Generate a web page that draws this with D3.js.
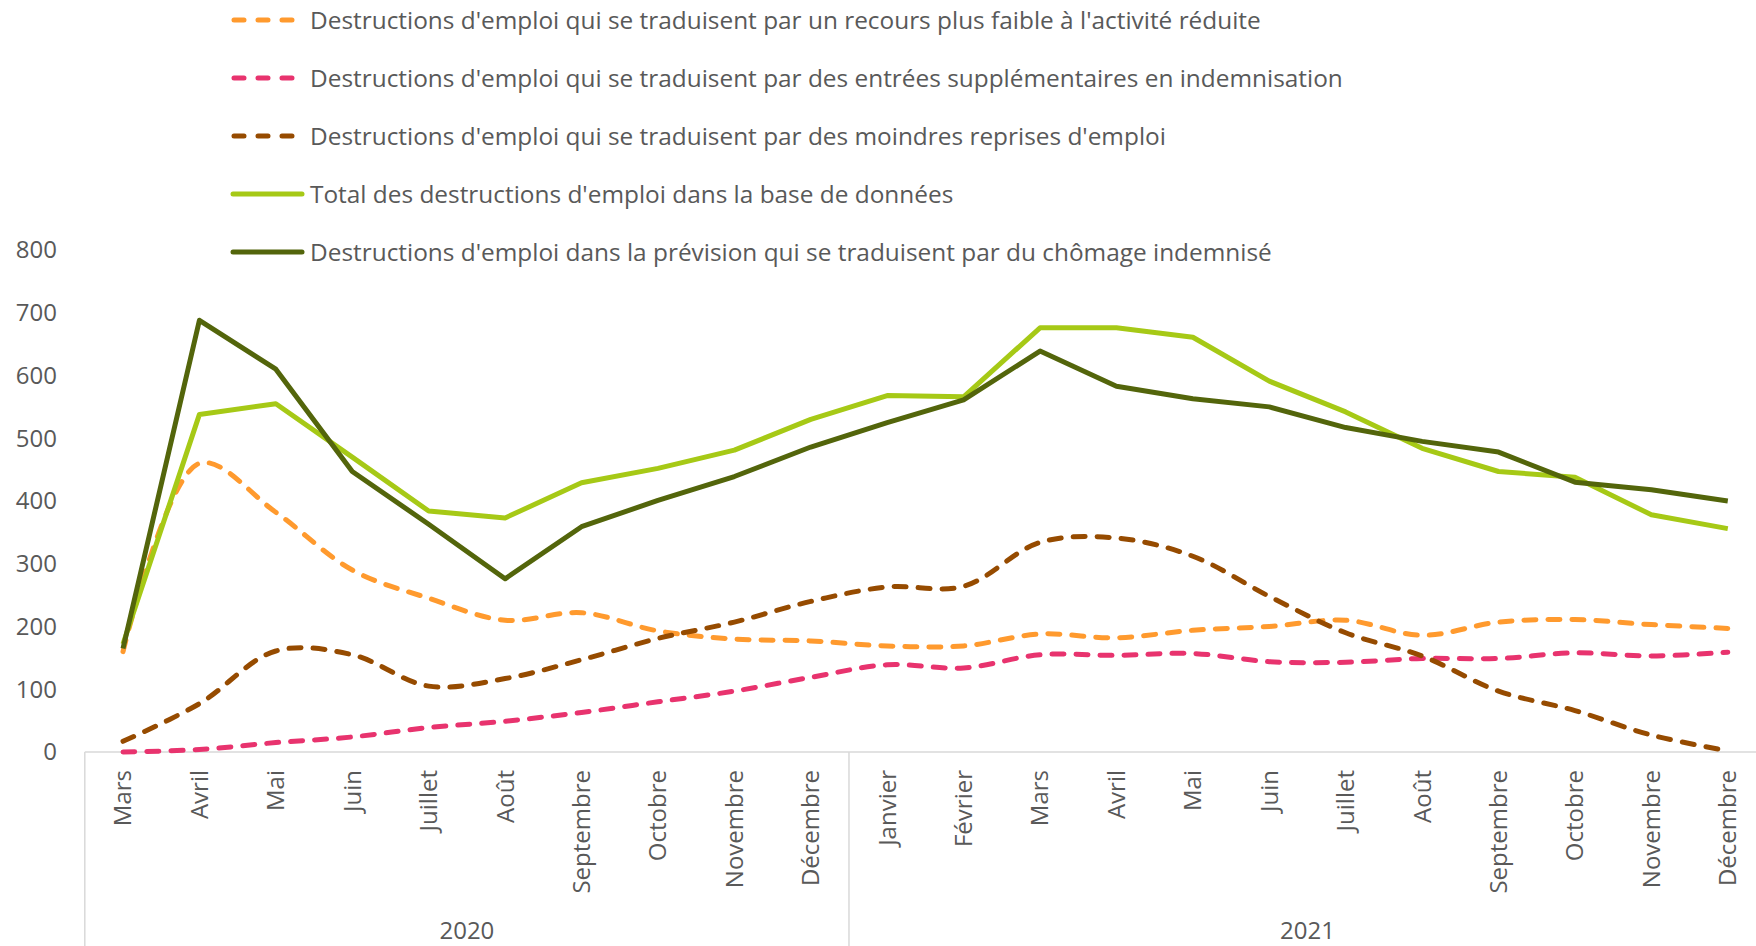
<!DOCTYPE html>
<html>
<head>
<meta charset="utf-8">
<script src="https://cdn.jsdelivr.net/npm/d3@7"></script>
<style>
  body { margin: 0; background: #fff; }
  text { font-family: "Open Sans", sans-serif; fill: #595959; }
</style>
</head>
<body>
<div id="chart"></div>
<script>
// Data
const months = ["Mars", "Avril", "Mai", "Juin", "Juillet", "Août", "Septembre", "Octobre", "Novembre", "Décembre",
  "Janvier", "Février", "Mars", "Avril", "Mai", "Juin", "Juillet", "Août", "Septembre", "Octobre", "Novembre", "Décembre"];
const years = ["2020", "2021"];
const yearStart = [0, 10];   // index of first month of each year
const yearEnd = [10, 22];

const activiteReduite = [160, 460, 382, 290, 245, 210, 222, 193, 180, 177, 169, 169, 188, 182, 194, 200, 210, 186, 207, 211, 203, 197];
const entreesIndemn = [0, 4, 15, 24, 39, 49, 63, 80, 97, 119, 139, 134, 155, 154, 157, 144, 143, 149, 149, 158, 153, 159];
const moindresReprises = [17, 77, 161, 155, 105, 117, 147, 181, 207, 240, 263, 264, 334, 341, 312, 248, 190, 153, 97, 66, 27, 2];
const totalBase = [172, 538, 555, 470, 384, 373, 429, 452, 481, 530, 568, 566, 676, 676, 661, 591, 542, 484, 447, 438, 378, 356];
const prevision = [165, 688, 610, 447, 363, 276, 359, 401, 439, 486, 525, 561, 639, 583, 563, 550, 517, 495, 478, 430, 418, 400];

const yTicks = [0, 100, 200, 300, 400, 500, 600, 700, 800];

const series = [
  { name: "Destructions d'emploi qui se traduisent par un recours plus faible à l'activité réduite", values: activiteReduite, color: "#FF9A2E", dashed: true },
  { name: "Destructions d'emploi qui se traduisent par des entrées supplémentaires en indemnisation", values: entreesIndemn, color: "#E8336E", dashed: true },
  { name: "Destructions d'emploi qui se traduisent par des moindres reprises d'emploi", values: moindresReprises, color: "#964B00", dashed: true },
  { name: "Total des destructions d'emploi dans la base de données", values: totalBase, color: "#A6C916", dashed: false },
  { name: "Destructions d'emploi dans la prévision qui se traduisent par du chômage indemnisé", values: prevision, color: "#53650B", dashed: false }
];

// Set up the SVG
const width = 1756;
const height = 946;
const plot = { left: 84.8, right: 1766, top: 250, bottom: 752 };

const svg = d3.select("#chart")
  .append("svg")
  .attr("width", width)
  .attr("height", height);

// Scales
const x = d3.scaleBand()
  .domain(d3.range(months.length))
  .range([plot.left, plot.right]);

const y = d3.scaleLinear()
  .domain([0, 800])
  .range([plot.bottom, plot.top]);

const cx = i => x(i) + x.bandwidth() / 2;

// y axis labels (no line, no gridlines)
svg.append("g")
  .selectAll("text")
  .data(yTicks)
  .join("text")
  .attr("x", 57)
  .attr("y", d => y(d))
  .attr("dy", "0.35em")
  .attr("text-anchor", "end")
  .style("font-size", "24px")
  .text(d => d);

// x axis line and year separators
svg.append("line")
  .attr("x1", plot.left).attr("x2", width)
  .attr("y1", plot.bottom).attr("y2", plot.bottom)
  .attr("stroke", "#d9d9d9").attr("stroke-width", 1.5);

svg.append("g")
  .selectAll("line")
  .data(yearStart)
  .join("line")
  .attr("x1", d => x(d)).attr("x2", d => x(d))
  .attr("y1", plot.bottom).attr("y2", height)
  .attr("stroke", "#d9d9d9").attr("stroke-width", 1.5);

// month labels, rotated
svg.append("g")
  .selectAll("text")
  .data(months)
  .join("text")
  .attr("transform", (d, i) => `translate(${cx(i)},770) rotate(-90)`)
  .attr("text-anchor", "end")
  .attr("dy", "0.35em")
  .style("font-size", "24px")
  .text(d => d);

// year labels
svg.append("g")
  .selectAll("text")
  .data(years)
  .join("text")
  .attr("x", (d, i) => (x(yearStart[i]) + x(yearEnd[i] - 1) + x.bandwidth()) / 2)
  .attr("y", 931)
  .attr("dy", "0.35em")
  .attr("text-anchor", "middle")
  .style("font-size", "24px")
  .text(d => d);

// lines
const straight = d3.line().x((d, i) => cx(i)).y(d => y(d));
const smooth = d3.line().x((d, i) => cx(i)).y(d => y(d)).curve(d3.curveCatmullRom.alpha(0.5));

svg.append("g")
  .selectAll("path")
  .data(series)
  .join("path")
  .attr("d", s => (s.dashed ? smooth : straight)(s.values))
  .attr("fill", "none")
  .attr("stroke", s => s.color)
  .attr("stroke-width", 5)
  .attr("stroke-linecap", s => s.dashed ? "round" : "butt")
  .attr("stroke-linejoin", "round")
  .attr("stroke-dasharray", s => s.dashed ? "12,12" : null);

// legend
const legend = svg.append("g")
  .selectAll("g")
  .data(series)
  .join("g")
  .attr("transform", (d, i) => `translate(0,${20 + i * 58})`);

legend.append("line")
  .attr("x1", d => d.dashed ? 234 : 233)
  .attr("x2", d => d.dashed ? 298 : 302)
  .attr("stroke", d => d.color)
  .attr("stroke-width", 5)
  .attr("stroke-linecap", "round")
  .attr("stroke-dasharray", d => d.dashed ? "10,14" : null);

legend.append("text")
  .attr("x", 310)
  .attr("dy", "0.35em")
  .style("font-size", "24.4px")
  .text(d => d.name);
</script>
</body>
</html>
